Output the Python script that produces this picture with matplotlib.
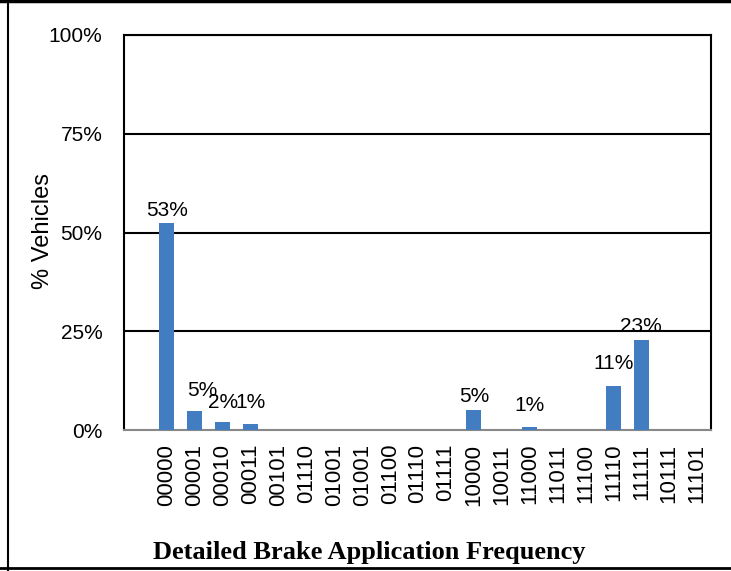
import matplotlib
matplotlib.use("Agg")
import matplotlib.pyplot as plt
from matplotlib.ticker import FuncFormatter
from matplotlib.lines import Line2D

categories = ["00000", "00001", "00010", "00011", "00101", "01110", "01001",
              "01001", "01100", "01110", "01111", "10000", "10011", "11000",
              "11011", "11100", "11110", "11111", "10111", "11101"]
values = [52.5, 4.8, 1.9, 1.4, 0, 0, 0, 0, 0, 0, 0, 5.0, 0, 0.7,
          0, 0, 11.1, 22.8, 0, 0]
labels = ["53%", "5%", "2%", "1%", "", "", "", "", "", "", "", "5%", "", "1%",
          "", "", "11%", "23%", "", ""]
yticks = [0, 25, 50, 75, 100]

# label offsets (px) : (dx, dy above bar top to baseline)
label_offsets = {0: (0, 7), 1: (7, 15), 2: (0, 14), 3: (0, 16), 11: (0, 8),
                 13: (0, 16), 16: (0, 17), 17: (0, 8)}

plt.rcParams['font.family'] = ['Liberation Sans', 'DejaVu Sans']

fig = plt.figure(figsize=(7.31, 5.71), dpi=100)
ax = fig.add_axes([124/731, 1 - 430/571, 587/731, 395/571])

x = list(range(len(categories)))
bars = ax.bar(x, values, width=0.54, color='#417DC0', zorder=3)

ax.set_xlim(-1.54, 19.5)
ax.set_ylim(0, 100)
ax.set_yticks(yticks)
ax.yaxis.set_major_formatter(FuncFormatter(lambda v, p: f"{int(v)}%"))
ax.tick_params(axis='y', length=0, pad=15.5, labelsize=15)
ax.set_xticks(x)
ax.set_xticklabels(categories, rotation=90, fontsize=16, va='top')
ax.tick_params(axis='x', length=0, pad=10)

for y in yticks[1:]:
    ax.axhline(y, color='black', lw=1.5, zorder=2)

for s in ['left', 'right', 'top']:
    ax.spines[s].set_color('black')
    ax.spines[s].set_linewidth(1.5)
ax.spines['bottom'].set_color('#888888')
ax.spines['bottom'].set_linewidth(1.5)

for i, (v, lab) in enumerate(zip(values, labels)):
    if not lab:
        continue
    dx, dy = label_offsets.get(i, (0, 8))
    ax.annotate(lab, (i, v), xytext=(dx * 0.72, dy * 0.72),
                textcoords='offset points', ha='center', va='baseline',
                fontsize=15, zorder=5)

fig.text(43/731, 1 - 231/571, "% Vehicles", rotation=90, ha='center',
         va='center', fontsize=17)
fig.text(369/731, 1 - 553/571, "Detailed Brake Application Frequency",
         ha='center', va='center', fontsize=19, fontweight='bold',
         family=['Liberation Serif', 'DejaVu Serif'])

# outer frame lines
fig.add_artist(Line2D([0, 1], [1 - 1/571, 1 - 1/571], color='black', lw=2.5,
                      transform=fig.transFigure))
fig.add_artist(Line2D([8/731, 8/731], [0, 1], color='black', lw=1.5,
                      transform=fig.transFigure))
fig.add_artist(Line2D([0, 1], [1 - 568/571, 1 - 568/571], color='black',
                      lw=2, transform=fig.transFigure))

fig.savefig("out.png", dpi=100)
